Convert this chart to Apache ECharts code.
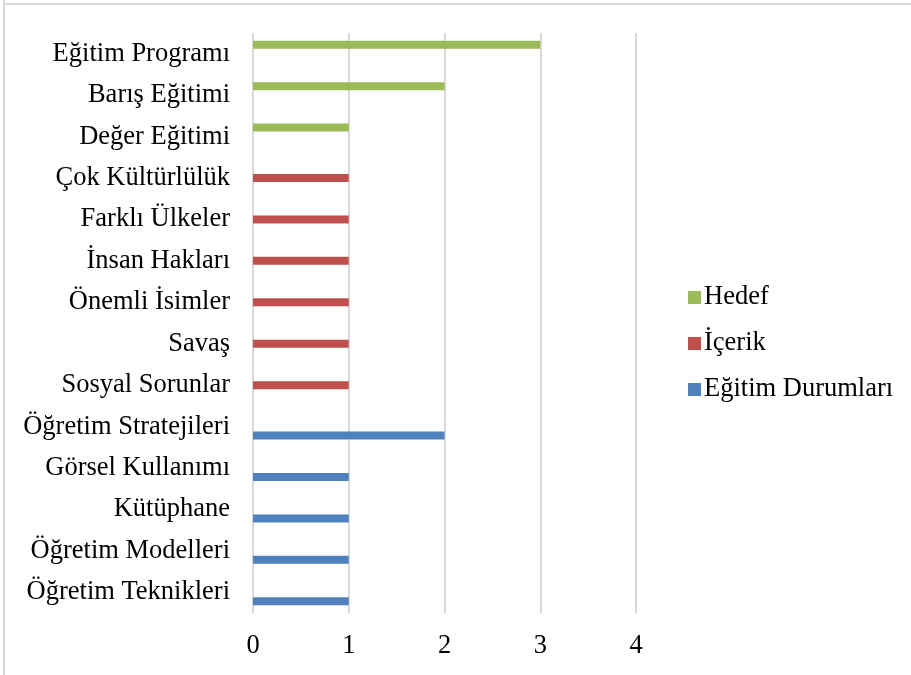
<!DOCTYPE html>
<html>
<head>
<meta charset="utf-8">
<script src="https://cdn.jsdelivr.net/npm/echarts@6/dist/echarts.min.js"></script>
<style>html,body{margin:0;padding:0;background:#fff}#c{width:911px;height:675px}</style>
</head>
<body>
<div id="c"></div>
<script>
const categories = ['Eğitim Programı','Barış Eğitimi','Değer Eğitimi','Çok Kültürlülük','Farklı Ülkeler','İnsan Hakları','Önemli İsimler','Savaş','Sosyal Sorunlar','Öğretim Stratejileri','Görsel Kullanımı','Kütüphane','Öğretim Modelleri','Öğretim Teknikleri'];
const hedef = [3,2,1,'-','-','-','-','-','-','-','-','-','-','-'];
const icerik = ['-','-','-',1,1,1,1,1,1,'-','-','-','-','-'];
const egitimDurumlari = ['-','-','-','-','-','-','-','-','-',2,1,1,1,1];
const xTicks = [0,1,2,3,4];

const font = '"Liberation Serif", "Times New Roman", serif';
const chart = echarts.init(document.getElementById('c'));
chart.setOption({
  animation: false,
  textStyle: {fontFamily: font},
  grid: {left: 253, right: 275, top: 33, bottom: 62, containLabel: false},
  graphic: [
    {type: 'line', shape: {x1: 4, y1: 0, x2: 4, y2: 675}, style: {stroke: '#d9d9d9', lineWidth: 2}},
    {type: 'line', shape: {x1: 4, y1: 4, x2: 911, y2: 4}, style: {stroke: '#d9d9d9', lineWidth: 2}}
  ],
  legend: {
    orient: 'vertical', left: 683, top: 279,
    itemWidth: 13, itemHeight: 13, itemGap: 19,
    icon: 'rect',
    data: ['Hedef','İçerik','Eğitim Durumları'],
    textStyle: {fontFamily: font, fontSize: 26.5, color: '#000', padding: [0,0,0,-2]}
  },
  xAxis: {
    type: 'value', min: xTicks[0], max: xTicks[xTicks.length-1], interval: 1,
    axisLine: {show: false}, axisTick: {show: false},
    splitLine: {lineStyle: {color: '#d9d9d9', width: 2}},
    axisLabel: {fontFamily: font, fontSize: 26.5, color: '#000', margin: 20}
  },
  yAxis: {
    type: 'category', data: categories, inverse: true,
    axisLine: {show: false}, axisTick: {show: false},
    axisLabel: {fontFamily: font, fontSize: 26.5, color: '#000', margin: 23, padding: [4,0,0,0]}
  },
  series: [
    {name: 'Hedef', type: 'bar', data: hedef, barWidth: 8, barGap: '12%', itemStyle: {color: '#9bbb59'}},
    {name: 'İçerik', type: 'bar', data: icerik, barWidth: 8, barGap: '12%', itemStyle: {color: '#c0504d'}},
    {name: 'Eğitim Durumları', type: 'bar', data: egitimDurumlari, barWidth: 8, barGap: '12%', itemStyle: {color: '#4f81bd'}}
  ]
});
</script>
</body>
</html>
